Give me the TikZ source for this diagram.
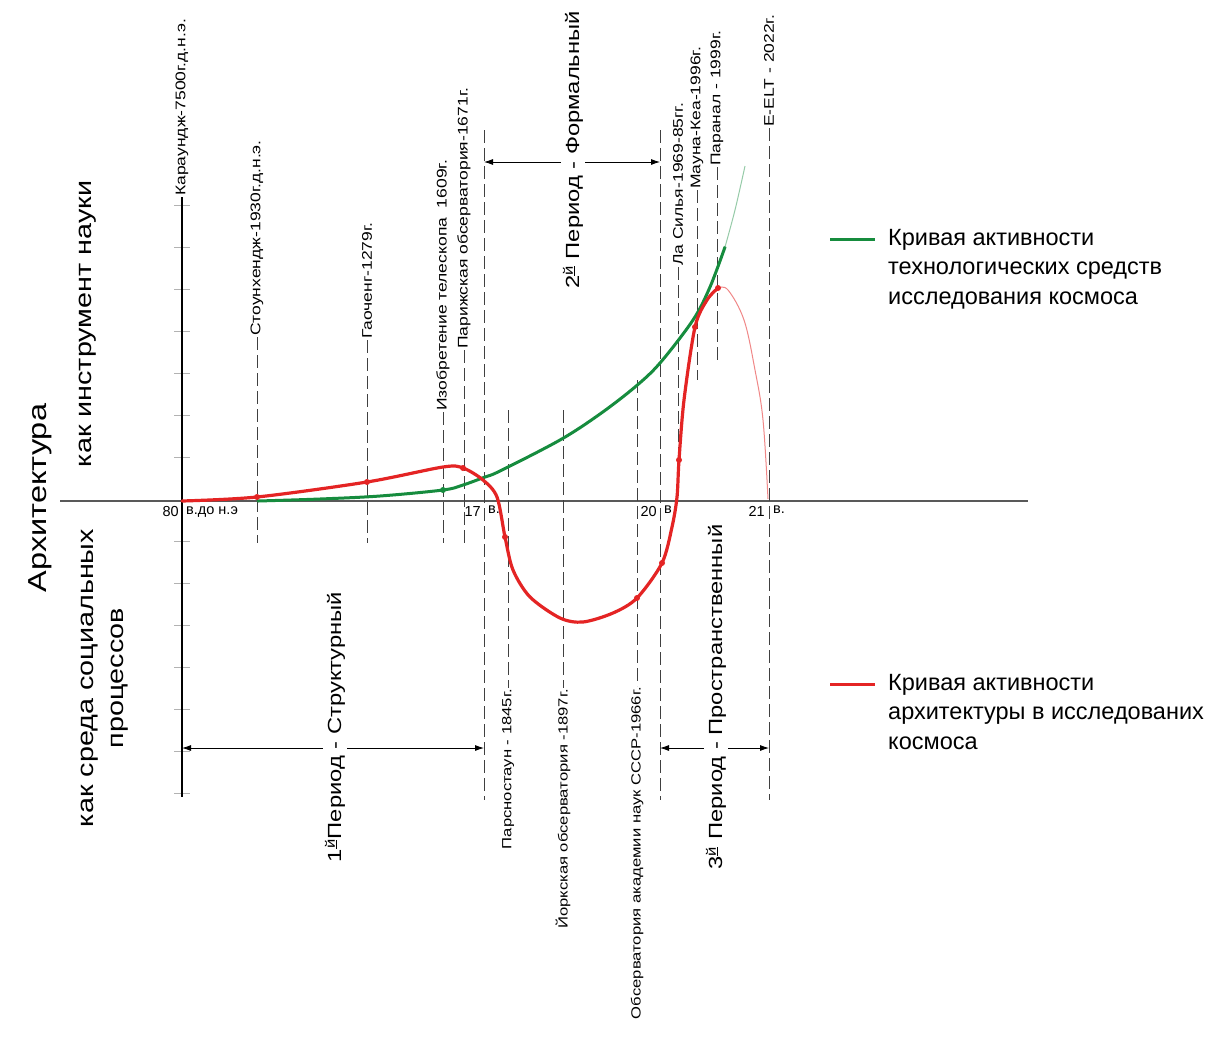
\documentclass[tikz,border=0pt]{standalone}
\usepackage{fontspec}
\setmainfont{Liberation Sans}
\newfontfamily\stf[FakeStretch=1.25]{Liberation Sans}
\usetikzlibrary{arrows.meta}
\definecolor{gc}{RGB}{22,140,62}
\definecolor{rc}{RGB}{228,36,36}
\begin{document}
\begin{tikzpicture}[x=1pt,y=-1pt,
  lab/.style={font=\stf\fontsize{14}{16}\selectfont, rotate=90, inner sep=1pt},
  labb/.style={font=\stf\fontsize{13.3}{16}\selectfont, rotate=90, inner sep=1pt},
  per/.style={font=\stf\fontsize{19}{22}\selectfont, rotate=90, fill=white, inner sep=2pt},
  side/.style={font=\stf\fontsize{23}{30}\selectfont, rotate=90, align=center, inner sep=1pt},
  dl/.style={draw=black!75, line width=0.8pt, dash pattern=on 13pt off 5pt},
  tk/.style={draw=black!30, line width=0.7pt},
  ax/.style={font=\fontsize{14.5}{16}\selectfont, inner sep=1pt},
  dot/.style={circle, fill=rc, inner sep=0pt, minimum size=6pt},
  gdot/.style={circle, fill=gc, inner sep=0pt, minimum size=6pt},
  arr/.style={line width=0.8pt, {Latex[length=9pt,width=6pt]}-{Latex[length=9pt,width=6pt]}},
  leg/.style={font=\fontsize{23.5}{29.5}\selectfont, align=left, anchor=north west, inner sep=0pt}
]
\useasboundingbox[fill=white] (0,0) rectangle (1222,1036);

% y ticks
\foreach \k in {0,...,6,8,9,...,14}
  \draw[tk] (174,205+42*\k) -- (190,205+42*\k);

% horizontal axis
\coordinate (hx0) at (60,501);
\coordinate (hx1) at (1028,501);
\draw[line width=2.2pt, draw=black!65] (hx0) -- (hx1);

% top labels with lines
\node[lab, anchor=west] (lk) at (182,197) {Караундж-7500г.д.н.э.};
\coordinate (axb) at (182,797);
\draw[line width=1.3pt] (lk.west) -- (axb);

\node[lab, anchor=west] (ls) at (257,337) {Стоунхендж-1930г.д.н.э.};
\coordinate (ls2) at (257,543);
\draw[dl] (ls.west) -- (ls2);
\node[lab, anchor=west] (lg) at (367,340) {Гаоченг-1279г.};
\coordinate (lg2) at (367,543);
\draw[dl] (lg.west) -- (lg2);
\node[lab, anchor=west] (li) at (443,412) {Изобретение телескопа\ \ 1609г.};
\coordinate (li2) at (443,543);
\draw[dl] (li.west) -- (li2);
\node[lab, anchor=west] (lp) at (464,350) {Парижская обсерватория-1671г.};
\coordinate (lp2) at (464,543);
\draw[dl] (lp.west) -- (lp2);

\coordinate (c17a) at (484,130); \coordinate (c17b) at (484,800);
\draw[dl] (c17a) -- (c17b);
\coordinate (c20a) at (660,130); \coordinate (c20b) at (660,800);
\draw[dl] (c20a) -- (c20b);

\node[lab, anchor=west] (lls) at (678,267) {Ла Силья-1969-85гг.};
\coordinate (lls2) at (678,501);
\draw[dl] (lls.west) -- (lls2);
\node[lab, anchor=west] (lmk) at (697,190) {Мауна-Кеа-1996г.};
\coordinate (lmk2) at (697,380);
\draw[dl] (lmk.west) -- (lmk2);
\node[lab, anchor=west] (lpr) at (717,167) {Паранал - 1999г.};
\coordinate (lpr2) at (717,363);
\draw[dl] (lpr.west) -- (lpr2);
\node[lab, anchor=west] (le) at (769,128) {E-ELT - 2022г.};
\coordinate (le2) at (769,800);
\draw[dl] (le.west) -- (le2);

% bottom labels with lines
\node[labb, anchor=east] (lpa) at (508,688) {Парсностаун - 1845г.};
\coordinate (lpa1) at (508,410);
\draw[dl] (lpa1) -- (lpa.east);
\node[labb, anchor=east] (ly) at (563,688) {Йоркская обсерватория -1897г.};
\coordinate (ly1) at (563,410);
\draw[dl] (ly1) -- (ly.east);
\node[labb, anchor=east] (lo) at (637,686) {Обсерватория академии наук СССР-1966г.};
\coordinate (lo1) at (637,380);
\draw[dl] (lo1) -- (lo.east);

% axis labels
\node[ax, anchor=north east] (n80) at (180,505) {80};
\node[ax, anchor=north west] (n80b) at (185,505) {в.до н.э};
\node[ax, anchor=north east] (n17) at (482,505) {17};
\node[ax, anchor=north west] (n17b) at (487,505) {в.};
\node[ax, anchor=north east] (n20) at (658,505) {20};
\node[ax, anchor=north west] (n20b) at (663,505) {в};
\node[ax, anchor=north east] (n21) at (766,505) {21};
\node[ax, anchor=north west] (n21b) at (772,505) {в.};

% green curve
\draw[gc, line width=3pt, line cap=round] plot[smooth, tension=0.55] coordinates {
 (258,501) (320,499) (380,496) (443,490) (463,485) (485,477) (500,471)
 (560,440) (600,414) (635,387) (660,363) (693,320) (710,287) (725,247)};
\draw[gc!45, line width=1pt] plot[smooth, tension=0.55] coordinates {
 (725,247) (735,210) (745,166)};
\node[gdot] (gd1) at (443,490) {};

% red curve
\draw[rc, line width=3.2pt, line cap=round] plot[smooth, tension=0.5] coordinates {
 (182,501) (257,497) (367,482) (443,467) (463,468) (483,480) (497,497)
 (505,537) (513,570) (530,597) (560,618) (583,622) (613,613) (637,598)
 (662,563) (672,527) (677,497) (679,460) (684,400) (695,327) (707,300) (718,288)};
\draw[rc!55, line width=1pt] plot[smooth, tension=0.6] coordinates {
 (718,288) (728,290) (744,320) (755,370) (763,420) (768,499)};
\foreach \p/\n in {(257,497)/r1,(367,482)/r2,(463,468)/r3,(505,537)/r4,(637,598)/r5,(662,563)/r6,(679,460)/r7,(695,327)/r8,(718,288)/r9}
  \node[dot] (\n) at \p {};

% period arrows
\coordinate (a1l) at (182,748); \coordinate (a1r) at (484,748);
\draw[arr] (a1l) -- (a1r);
\node[per] (p1) at (335,727) {1\textsuperscript{\underline{й}}Период - Структурный};
\coordinate (a2l) at (484,162); \coordinate (a2r) at (660,162);
\draw[arr] (a2l) -- (a2r);
\node[per] (p2) at (573,150) {2\textsuperscript{\underline{й}} Период - Формальный};
\coordinate (a3l) at (660,748); \coordinate (a3r) at (769,748);
\draw[arr] (a3l) -- (a3r);
\node[per] (p3) at (716,697) {3\textsuperscript{\underline{й}} Период - Пространственный};

% side texts
\node[side, font=\stf\fontsize{26}{30}\selectfont] (arch) at (40,498) {Архитектура};
\node[side] (up) at (88,324) {как инструмент науки};
\node[side] (dn) at (105,678) {как среда социальных\\процессов};

% legend
\coordinate (g1) at (830,239); \coordinate (g2) at (875,239);
\draw[gc, line width=3pt] (g1) -- (g2);
\node[leg] (lg1) at (888,229) {Кривая активности\\технологических средств\\исследования космоса};
\coordinate (r1l) at (830,684); \coordinate (r2l) at (875,684);
\draw[rc, line width=3pt] (r1l) -- (r2l);
\node[leg] (lg2) at (888,674) {Кривая активности\\архитектуры в исследованих\\космоса};
\end{tikzpicture}
\end{document}
